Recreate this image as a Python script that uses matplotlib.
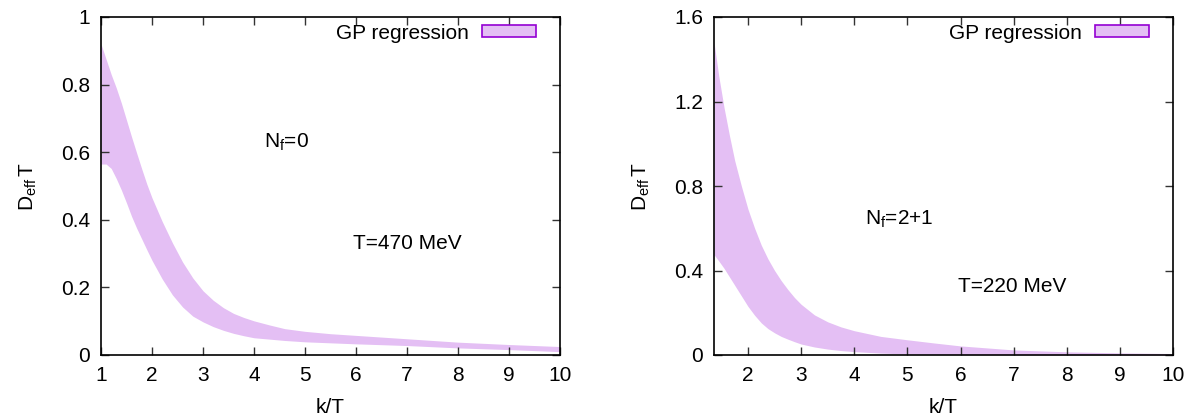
import matplotlib
matplotlib.use("Agg")
import matplotlib.pyplot as plt
from matplotlib.patches import Patch

plt.rcParams['font.family'] = ['Liberation Sans', 'DejaVu Sans']
plt.rcParams['mathtext.fontset'] = 'custom'
plt.rcParams['mathtext.rm'] = 'Liberation Sans'
plt.rcParams['mathtext.it'] = 'Liberation Sans'
plt.rcParams['font.size'] = 15

# ---- data: left panel (Nf=0, T=470 MeV) ----
k_left = [1.0, 1.1, 1.2, 1.3, 1.4, 1.5, 1.6, 1.7, 1.8, 1.9, 2.0, 2.2, 2.4, 2.6,
          2.8, 3.0, 3.2, 3.4, 3.6, 3.8, 4.0, 4.3, 4.6, 5.0, 5.5, 6.0, 7.0, 8.0,
          9.0, 10.0]
upper_left = [0.92, 0.875, 0.83, 0.79, 0.745, 0.695, 0.645, 0.597, 0.55, 0.505,
              0.465, 0.395, 0.332, 0.275, 0.228, 0.19, 0.162, 0.14, 0.123, 0.111,
              0.101, 0.089, 0.078, 0.070, 0.063, 0.058, 0.048, 0.038, 0.031, 0.025]
lower_left = [0.565, 0.565, 0.552, 0.522, 0.488, 0.45, 0.41, 0.375, 0.343, 0.311,
              0.28, 0.225, 0.178, 0.142, 0.115, 0.098, 0.084, 0.073, 0.064, 0.057,
              0.051, 0.047, 0.043, 0.039, 0.036, 0.033, 0.028, 0.021, 0.016, 0.010]

# ---- data: right panel (Nf=2+1, T=220 MeV) ----
k_right = [1.36, 1.45, 1.55, 1.65, 1.75, 1.875, 2.0, 2.125, 2.25, 2.375, 2.5,
           2.625, 2.75, 2.875, 3.0, 3.25, 3.5, 3.75, 4.0, 4.5, 5.0, 5.5, 6.0,
           7.0, 8.0, 9.0, 10.0]
upper_right = [1.48, 1.32, 1.17, 1.04, 0.92, 0.80, 0.69, 0.60, 0.52, 0.455, 0.40,
               0.352, 0.31, 0.272, 0.24, 0.19, 0.157, 0.133, 0.115, 0.088, 0.072,
               0.057, 0.043, 0.024, 0.015, 0.010, 0.007]
lower_right = [0.475, 0.445, 0.41, 0.37, 0.33, 0.28, 0.23, 0.188, 0.152, 0.125,
               0.105, 0.088, 0.075, 0.063, 0.052, 0.038, 0.028, 0.021, 0.016,
               0.009, 0.005, 0.003, 0.002, 0.001, 0.0005, 0.0003, 0.0002]

xticks_left = [1, 2, 3, 4, 5, 6, 7, 8, 9, 10]
yticks_left = [0, 0.2, 0.4, 0.6, 0.8, 1]
yticklabels_left = ['0', '0.2', '0.4', '0.6', '0.8', '1']
xticks_right = [2, 3, 4, 5, 6, 7, 8, 9, 10]
yticks_right = [0, 0.4, 0.8, 1.2, 1.6]
yticklabels_right = ['0', '0.4', '0.8', '1.2', '1.6']

fill_color = '#e4bff4'
edge_color = '#9400d3'

fig = plt.figure(figsize=(11.9, 4.16), dpi=100)
axL = fig.add_axes([101/1190, 1-355/416, 459/1190, 338/416])
axR = fig.add_axes([714/1190, 1-355/416, 459/1190, 338/416])

def style(ax, xt, yt, xlim, ylim, ylabels):
    ax.set_xlim(*xlim)
    ax.set_ylim(*ylim)
    ax.set_xticks(xt)
    ax.set_yticks(yt)
    ax.set_yticklabels(ylabels)
    ax.tick_params(direction='in', length=6, width=1, top=True, right=True,
                   labelsize=15, pad=8, color='#333333')
    for s in ax.spines.values():
        s.set_linewidth(1.2)
    ax.set_xlabel('k/T', fontsize=15, labelpad=9)
    ax.set_ylabel(r'$\mathregular{D_{eff}\,T}$', fontsize=15, labelpad=16)
    ax.legend(handles=[Patch(facecolor=fill_color, edgecolor=edge_color,
                             linewidth=1.2, label='GP regression')],
              loc='upper right', bbox_to_anchor=(1 - 9.5/459, 1 + 8/338),
              frameon=False, markerfirst=False,
              handlelength=2.6, handleheight=0.55, handletextpad=0.6,
              borderaxespad=0.3, fontsize=15)

axL.fill_between(k_left, lower_left, upper_left, color=fill_color, linewidth=0)
style(axL, xticks_left, yticks_left, (1, 10), (0, 1), yticklabels_left)
axL.text(4.2, 0.63, r'N$_\mathregular{f}$=0', fontsize=15, va='center', ha='left')
axL.text(5.94, 0.33, 'T=470 MeV', fontsize=15, va='center', ha='left')

axR.fill_between(k_right, lower_right, upper_right, color=fill_color, linewidth=0)
style(axR, xticks_right, yticks_right, (1.36, 10), (0, 1.6), yticklabels_right)
axR.text(4.2, 0.64, r'N$_\mathregular{f}$=2+1', fontsize=15, va='center', ha='left')
axR.text(5.95, 0.323, 'T=220 MeV', fontsize=15, va='center', ha='left')

fig.savefig('out.png', dpi=100)
